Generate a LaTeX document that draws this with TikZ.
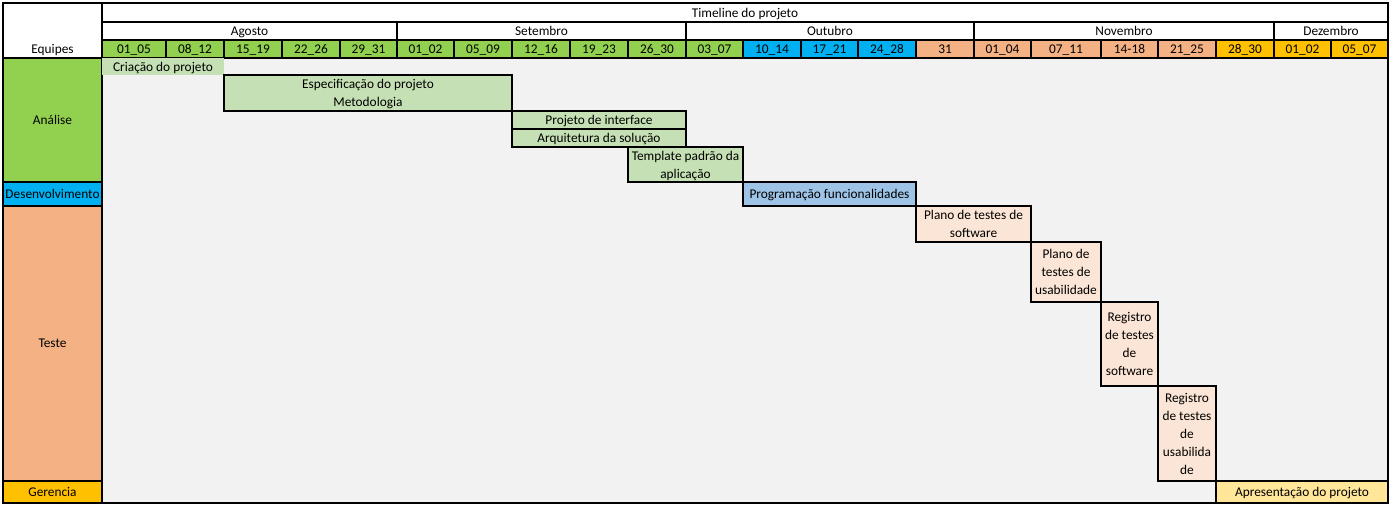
\documentclass[tikz,border=0pt]{standalone}
\usepackage{fontspec}
\setmainfont{Carlito}
\definecolor{hG}{HTML}{92D050}
\definecolor{hB}{HTML}{00B0F0}
\definecolor{hS}{HTML}{F4B183}
\definecolor{hO}{HTML}{FFC000}
\definecolor{tG}{HTML}{C5E0B4}
\definecolor{tB}{HTML}{9DC3E6}
\definecolor{tS}{HTML}{FBE5D6}
\definecolor{tO}{HTML}{FFE699}
\definecolor{bodygrey}{HTML}{F2F2F2}
% a rectangular cell given by its corners (in px): name, x1, y1, x2, y2, style, text
\newcommand\cellbox[7]{%
  \node[#6, minimum width={(#4-#2)*0.75pt}, minimum height={(#5-#3)*0.75pt}]
    (#1) at ({(#2+#4)/2},{(#3+#5)/2}) {#7};}
\begin{document}
\begin{tikzpicture}[x=0.75pt, y=-0.75pt,
  txt/.style={inner sep=0pt, font=\fontsize{10}{13.5}\selectfont, text=black,
    align=center, text depth=-2.5pt},
  gridcell/.style={txt, draw=black, line width=0.8pt},
  bare/.style={txt}]
\useasboundingbox (0,0) rectangle (1392,506);

% body background
\fill[bodygrey] (102,58) rectangle (1388,503);

% header: title and months
\cellbox{title}{102}{3}{1388}{22}{gridcell, fill=white}{Timeline do projeto}
\foreach \m/\a/\b [count=\i] in {Agosto/102/397, Setembro/397/686, Outubro/686/974,
    Novembro/974/1274, Dezembro/1274/1388}
  {\cellbox{mon\i}{\a}{22}{\b}{40}{gridcell, fill=white}{\m}}

% header: weeks
\foreach \w/\a/\b/\c [count=\i] in {
    01\_05/102/166/hG, 08\_12/166/224/hG, 15\_19/224/282/hG, 22\_26/282/340/hG,
    29\_31/340/397/hG, 01\_02/397/454/hG, 05\_09/454/512/hG, 12\_16/512/570/hG,
    19\_23/570/628/hG, 26\_30/628/686/hG, 03\_07/686/743/hG, 10\_14/743/801/hB,
    17\_21/801/858/hB, 24\_28/858/916/hB, 31/916/974/hS, 01\_04/974/1031/hS,
    07\_11/1031/1101/hS, 14-18/1101/1158/hS, 21\_25/1158/1216/hS,
    28\_30/1216/1274/hO, 01\_02/1274/1331/hO, 05\_07/1331/1388/hO}
  {\cellbox{wk\i}{\a}{40}{\b}{58}{gridcell, fill=\c}{\w}}

% team column
\cellbox{equipes}{3}{3}{102}{58}{gridcell, fill=white}{}
\node[txt] (equipesLbl) at (52.5,49) {Equipes};
\cellbox{analise}{3}{58}{102}{182}{gridcell, fill=hG}{Análise}
\cellbox{desenv}{3}{182}{102}{206}{gridcell, fill=hB}{Desenvolvimento}
\cellbox{teste}{3}{206}{102}{481}{gridcell, fill=hS}{Teste}
\cellbox{gerencia}{3}{481}{102}{503}{gridcell, fill=hO}{Gerencia}

% tasks
\cellbox{criacao}{102}{58}{224}{75}{bare, fill=tG}{Criação do projeto}
\cellbox{espec}{224}{75}{512}{111}{gridcell, fill=tG}{Especificação do projeto\\Metodologia}
\cellbox{interface}{512}{111}{686}{129}{gridcell, fill=tG}{Projeto de interface}
\cellbox{arquit}{512}{129}{686}{147}{gridcell, fill=tG}{Arquitetura da solução}
\cellbox{template}{628}{147}{743}{182}{gridcell, fill=tG}{Template padrão da\\aplicação}
\cellbox{program}{743}{182}{916}{206}{gridcell, fill=tB}{Programação funcionalidades}
\cellbox{planosw}{916}{206}{1031}{242}{gridcell, fill=tS}{Plano de testes de\\software}
\cellbox{planous}{1031}{242}{1101}{302}{gridcell, fill=tS}{Plano de\\testes de\\usabilidade}
\cellbox{regsw}{1101}{302}{1158}{386}{gridcell, fill=tS}{Registro\\de testes\\de\\software}
\cellbox{regus}{1158}{386}{1216}{481}{gridcell, fill=tS}{Registro\\de testes\\de\\usabilida\\de}
\cellbox{apres}{1216}{481}{1388}{503}{gridcell, fill=tO}{Apresentação do projeto}

% outer frame
\draw[line width=0.8pt] (3,3) rectangle (1388,503);
\end{tikzpicture}
\end{document}
